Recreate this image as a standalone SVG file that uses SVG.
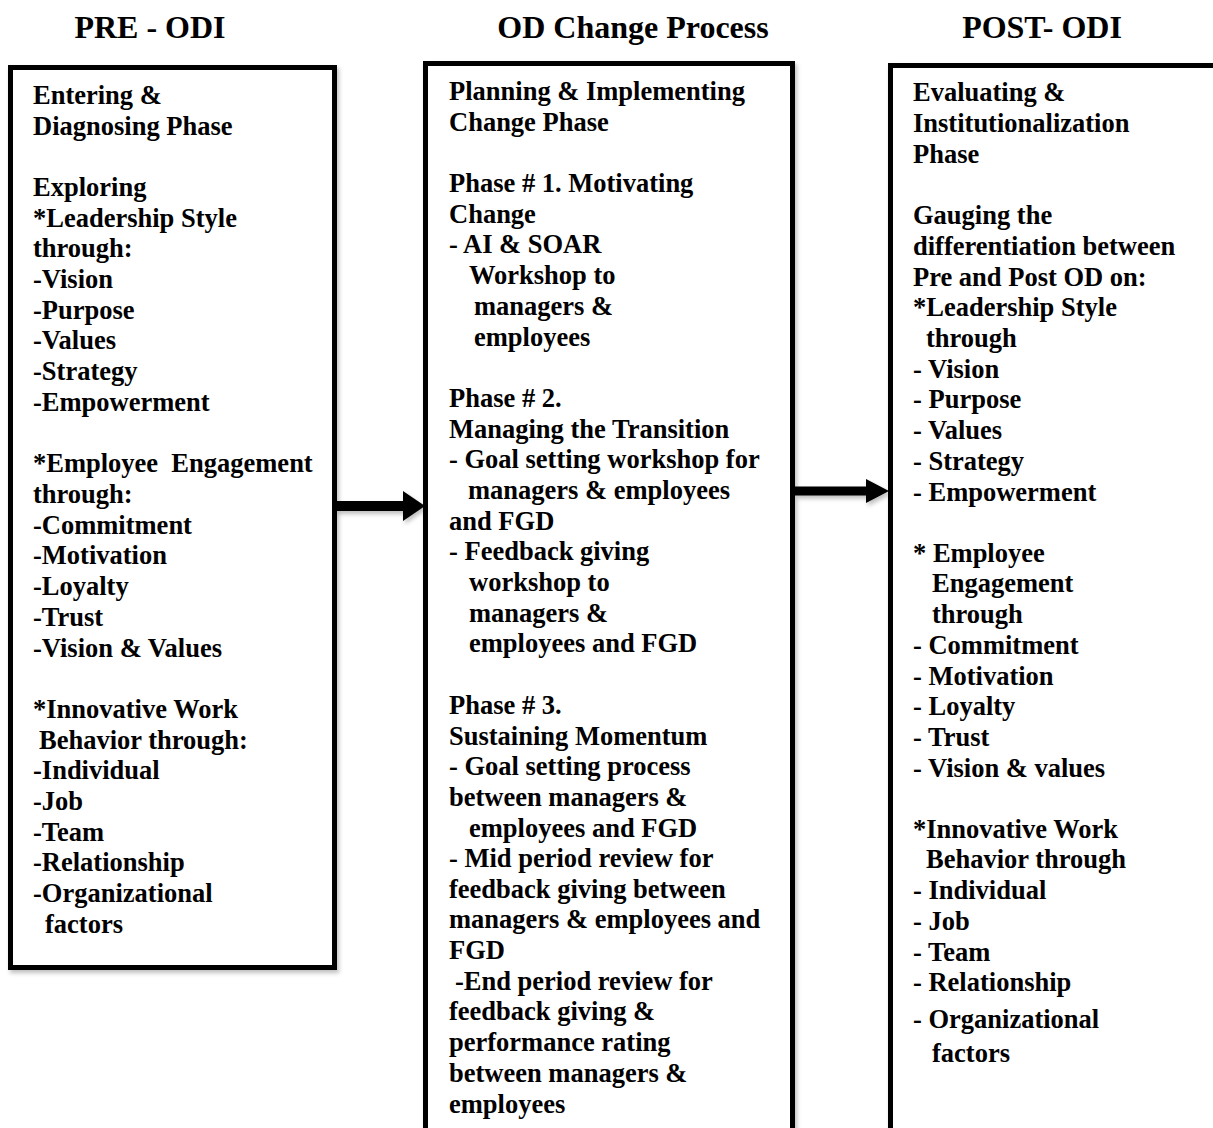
<svg xmlns="http://www.w3.org/2000/svg" width="1213" height="1128" viewBox="0 0 1213 1128">
<style>
.hdr{font-family:"Liberation Serif","Times New Roman",serif;font-weight:bold;font-size:32px;fill:#000;text-anchor:middle}
.t{font-family:"Liberation Serif","Times New Roman",serif;font-weight:bold;font-size:26.5px;fill:#000}
.box{fill:#fff;stroke:#000;stroke-width:5}
</style>
<defs>
<filter id="sh" x="-10%" y="-10%" width="120%" height="120%">
<feDropShadow dx="2" dy="3" stdDeviation="2" flood-color="#000" flood-opacity="0.25"/>
</filter>
</defs>

<g id="headers">
<text class="hdr" x="150" y="38">PRE - ODI</text>
<text class="hdr" x="633" y="38">OD Change Process</text>
<text class="hdr" x="1042" y="38">POST- ODI</text>
</g>

<g id="node-pre">
<rect class="box" x="10.5" y="67.5" width="324" height="900" filter="url(#sh)"/>
<g transform="translate(0,1)">
<text class="t" x="33" y="103">Entering &amp;</text>
<text class="t" x="33" y="134">Diagnosing Phase</text>
<text class="t" x="33" y="195">Exploring</text>
<text class="t" x="33" y="226">*Leadership Style</text>
<text class="t" x="33" y="256">through:</text>
<text class="t" x="33" y="287">-Vision</text>
<text class="t" x="33" y="318">-Purpose</text>
<text class="t" x="33" y="348">-Values</text>
<text class="t" x="33" y="379">-Strategy</text>
<text class="t" x="33" y="410">-Empowerment</text>
<text class="t" x="33" y="471" xml:space="preserve">*Employee  Engagement</text>
<text class="t" x="33" y="502">through:</text>
<text class="t" x="33" y="533">-Commitment</text>
<text class="t" x="33" y="563">-Motivation</text>
<text class="t" x="33" y="594">-Loyalty</text>
<text class="t" x="33" y="625">-Trust</text>
<text class="t" x="33" y="656">-Vision &amp; Values</text>
<text class="t" x="33" y="717">*Innovative Work</text>
<text class="t" x="39" y="748">Behavior through:</text>
<text class="t" x="33" y="778">-Individual</text>
<text class="t" x="33" y="809">-Job</text>
<text class="t" x="33" y="840">-Team</text>
<text class="t" x="33" y="870">-Relationship</text>
<text class="t" x="33" y="901">-Organizational</text>
<text class="t" x="45" y="932">factors</text>
</g>
</g>

<g id="node-od">
<rect class="box" x="425.5" y="63.5" width="367" height="1080" filter="url(#sh)"/>
<g transform="translate(0,1)">
<text class="t" x="449" y="99">Planning &amp; Implementing</text>
<text class="t" x="449" y="130">Change Phase</text>
<text class="t" x="449" y="191">Phase # 1. Motivating</text>
<text class="t" x="449" y="222">Change</text>
<text class="t" x="449" y="252">- AI &amp; SOAR</text>
<text class="t" x="469" y="283">Workshop to</text>
<text class="t" x="474" y="314">managers &amp;</text>
<text class="t" x="474" y="345">employees</text>
<text class="t" x="449" y="406">Phase # 2.</text>
<text class="t" x="449" y="437">Managing the Transition</text>
<text class="t" x="449" y="467">- Goal setting workshop for</text>
<text class="t" x="468" y="498">managers &amp; employees</text>
<text class="t" x="449" y="529">and FGD</text>
<text class="t" x="449" y="559">- Feedback giving</text>
<text class="t" x="469" y="590">workshop to</text>
<text class="t" x="469" y="621">managers &amp;</text>
<text class="t" x="469" y="651">employees and FGD</text>
<text class="t" x="449" y="713">Phase # 3.</text>
<text class="t" x="449" y="744">Sustaining Momentum</text>
<text class="t" x="449" y="774">- Goal setting process</text>
<text class="t" x="449" y="805">between managers &amp;</text>
<text class="t" x="469" y="836">employees and FGD</text>
<text class="t" x="449" y="866">- Mid period review for</text>
<text class="t" x="449" y="897">feedback giving between</text>
<text class="t" x="449" y="927">managers &amp; employees and</text>
<text class="t" x="449" y="958">FGD</text>
<text class="t" x="455" y="989">-End period review for</text>
<text class="t" x="449" y="1019">feedback giving &amp;</text>
<text class="t" x="449" y="1050">performance rating</text>
<text class="t" x="449" y="1081">between managers &amp;</text>
<text class="t" x="449" y="1112">employees</text>
</g>
</g>

<g id="node-post">
<rect class="box" x="890.5" y="65.5" width="340" height="1080" filter="url(#sh)"/>
<g transform="translate(0,1)">
<text class="t" x="913" y="100">Evaluating &amp;</text>
<text class="t" x="913" y="131">Institutionalization</text>
<text class="t" x="913" y="162">Phase</text>
<text class="t" x="913" y="223">Gauging the</text>
<text class="t" x="913" y="254">differentiation between</text>
<text class="t" x="913" y="285">Pre and Post OD on:</text>
<text class="t" x="913" y="315">*Leadership Style</text>
<text class="t" x="926" y="346">through</text>
<text class="t" x="913" y="377">- Vision</text>
<text class="t" x="913" y="407">- Purpose</text>
<text class="t" x="913" y="438">- Values</text>
<text class="t" x="913" y="469">- Strategy</text>
<text class="t" x="913" y="500">- Empowerment</text>
<text class="t" x="913" y="561">* Employee</text>
<text class="t" x="932" y="591">Engagement</text>
<text class="t" x="932" y="622">through</text>
<text class="t" x="913" y="653">- Commitment</text>
<text class="t" x="913" y="684">- Motivation</text>
<text class="t" x="913" y="714">- Loyalty</text>
<text class="t" x="913" y="745">- Trust</text>
<text class="t" x="913" y="776">- Vision &amp; values</text>
<text class="t" x="913" y="837">*Innovative Work</text>
<text class="t" x="926" y="867">Behavior through</text>
<text class="t" x="913" y="898">- Individual</text>
<text class="t" x="913" y="929">- Job</text>
<text class="t" x="913" y="960">- Team</text>
<text class="t" x="913" y="990">- Relationship</text>
<text class="t" x="913" y="1027">- Organizational</text>
<text class="t" x="932" y="1061">factors</text>
</g>
</g>

<g id="connectors" filter="url(#sh)">
<path d="M336,506 L404,506" stroke="#000" stroke-width="10" fill="none"/>
<path d="M403,491 L425,506 L403,521 Z" fill="#000"/>
<path d="M795,491 L867,491" stroke="#000" stroke-width="9" fill="none"/>
<path d="M866,479 L889,491 L866,503 Z" fill="#000"/>
</g>
</svg>
